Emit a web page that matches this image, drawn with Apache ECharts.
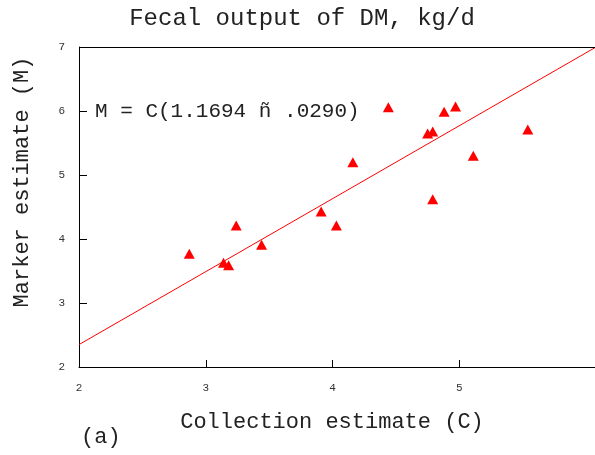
<!DOCTYPE html>
<html>
<head>
<meta charset="utf-8">
<script src="https://cdn.jsdelivr.net/npm/echarts@6/dist/echarts.min.js"></script>
<style>
html,body{margin:0;padding:0;background:#fff;overflow:hidden;}
#chart{width:595px;height:455px;}
</style>
</head>
<body>
<div id="chart"></div>
<script>
// Data
const collectionC = [2.87, 3.24, 3.14, 3.18, 3.44, 3.91, 4.03, 4.16, 4.44, 4.75, 4.79, 4.79, 4.88, 4.97, 5.11, 5.54];
const markerM     = [3.77, 4.21, 3.63, 3.59, 3.91, 4.43, 4.21, 5.20, 6.06, 5.65, 5.68, 4.62, 5.99, 6.07, 5.30, 5.71];
const fitC = [2, 6.07];
const fitM = [2.35, 6.99];
const xTickLabels = [2, 3, 4, 5];
const yTickLabels = [2, 3, 4, 5, 6, 7];

const mono = '"Liberation Mono", "Courier New", monospace';
const chart = echarts.init(document.getElementById('chart'), null, {renderer: 'canvas'});

const points = collectionC.map((c, i) => [c, markerM[i]]);
const fitLine = fitC.map((c, i) => [c, fitM[i]]);

chart.setOption({
  animation: false,
  backgroundColor: '#fff',
  grid: {left: 79, right: 0, top: 47, bottom: 88, show: false},
  xAxis: {
    type: 'value', min: 2, max: 6.07, interval: 1,
    axisLine: {show: true, onZero: false, lineStyle: {color: '#000', width: 1}},
    axisTick: {show: true, inside: true, length: 7, lineStyle: {color: '#000'}, customValues: [3, 4, 5]},
    axisLabel: {show: true, margin: 16, fontFamily: mono, fontSize: 11, color: '#333', customValues: xTickLabels},
    splitLine: {show: false}
  },
  yAxis: {
    type: 'value', min: 2, max: 7, interval: 1,
    axisLine: {show: true, onZero: false, lineStyle: {color: '#000', width: 1}},
    axisTick: {show: true, inside: true, length: 8, lineStyle: {color: '#000'}, customValues: [3, 4, 5, 6]},
    axisLabel: {show: true, margin: 14, fontFamily: mono, fontSize: 11, color: '#333', padding: [6, 0, 0, 0], customValues: yTickLabels},
    splitLine: {show: false}
  },
  series: [
    {
      type: 'line', data: fitLine, showSymbol: false, symbol: 'none', clip: false,
      lineStyle: {color: '#ff0000', width: 1}, z: 2, silent: true,
      markLine: {
        silent: true, symbol: ['none', 'none'], label: {show: false},
        lineStyle: {color: '#000', width: 1, type: 'solid'},
        emphasis: {disabled: true},
        data: [{yAxis: 7}]
      }
    },
    {
      type: 'scatter', data: points, symbol: 'triangle', symbolSize: [11, 10],
      itemStyle: {color: '#ff0000', opacity: 1}, z: 3
    }
  ],
  graphic: [
    {type: 'text', style: {text: 'Fecal output of DM, kg/d', x: 302, y: 19, align: 'center', verticalAlign: 'middle', font: '24px ' + mono, fill: '#222'}},
    {type: 'text', style: {text: 'M = C(1.1694 ñ .0290)', x: 95, y: 111, align: 'left', verticalAlign: 'middle', font: '21px ' + mono, fill: '#222'}},
    {type: 'text', style: {text: 'Collection estimate (C)', x: 332, y: 422, align: 'center', verticalAlign: 'middle', font: '22px ' + mono, fill: '#222'}},
    {type: 'text', style: {text: '(a)', x: 81, y: 437, align: 'left', verticalAlign: 'middle', font: '22px ' + mono, fill: '#222'}},
    {type: 'text', x: 22, y: 182, rotation: Math.PI / 2, style: {text: 'Marker estimate (M)', x: 0, y: 0, align: 'center', verticalAlign: 'middle', font: '22px ' + mono, fill: '#222'}}
  ]
});
</script>
</body>
</html>
